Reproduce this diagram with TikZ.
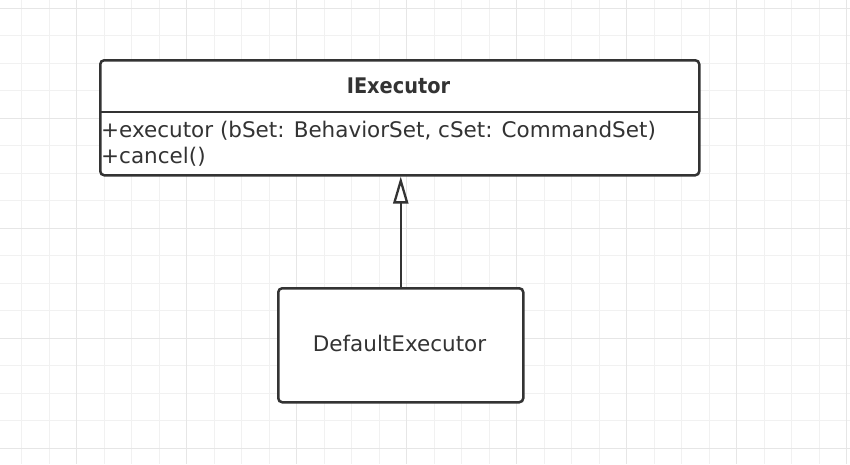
\documentclass[tikz,border=0pt]{standalone}
\usepackage{fontspec}
\setmainfont{DejaVu Sans}
\newfontfamily\headfont{DejaVu Sans Condensed}
\usetikzlibrary{arrows.meta}
\definecolor{minorgrid}{HTML}{F1F1F1}
\definecolor{majorgrid}{HTML}{E6E6E6}
\definecolor{umlline}{HTML}{333333}
\begin{document}
\begin{tikzpicture}[x=1pt,y=-1pt,
  umlbox/.style={draw=umlline,line width=2.5pt,rounded corners=4pt,fill=white},
  umltext/.style={font=\fontsize{21.5}{26}\selectfont,text=umlline,inner sep=0pt},
  inherit/.style={draw=umlline,line width=2.5pt,-{Triangle[open,fill=white,width=15pt,length=27pt,line width=2.3pt]}}]
\useasboundingbox (0,0) rectangle (850,464);
\fill[white] (0,0) rectangle (850,464);
% minor grid
\foreach \i in {0,...,31} {
  \draw[minorgrid,line width=1.2pt] ({21.7+27.5*(\i-1)},0) -- ({21.7+27.5*(\i-1)},464);
}
\foreach \j in {0,...,17} {
  \draw[minorgrid,line width=1.2pt] (0,{8.3+27.5*\j}) -- (850,{8.3+27.5*\j});
}
% major grid
\foreach \i in {0,...,7} {
  \draw[majorgrid,line width=1.3pt] ({76.7+110*\i},0) -- ({76.7+110*\i},464);
}
\foreach \j in {0,...,4} {
  \draw[majorgrid,line width=1.3pt] (0,{8.3+110*\j}) -- (850,{8.3+110*\j});
}
% IExecutor class
\node[umlbox,minimum width=599pt,minimum height=115pt,anchor=north west] (iexec) at (99,59) {};
\coordinate (sepL) at (99,112);
\coordinate (sepR) at (698,112);
\draw[draw=umlline,line width=2.4pt] (sepL) -- (sepR);
\node[umltext,font=\fontsize{21.5}{26}\selectfont\headfont\bfseries] (iname) at (398.5,86) {IExecutor};
\node[umltext,anchor=west] (op1) at (101,130.5) {+executor (bSet: BehaviorSet, cSet: CommandSet)};
\node[umltext,anchor=west] (op2) at (101,157) {+cancel()};
% DefaultExecutor class
\node[umlbox,minimum width=245pt,minimum height=114pt,anchor=north west] (dexec) at (277,287) {};
\node[umltext] (dname) at (399.5,343.5) {DefaultExecutor};
% inheritance
\draw[inherit] (dexec.north) -- (dexec.north |- iexec.south);
\end{tikzpicture}
\end{document}
